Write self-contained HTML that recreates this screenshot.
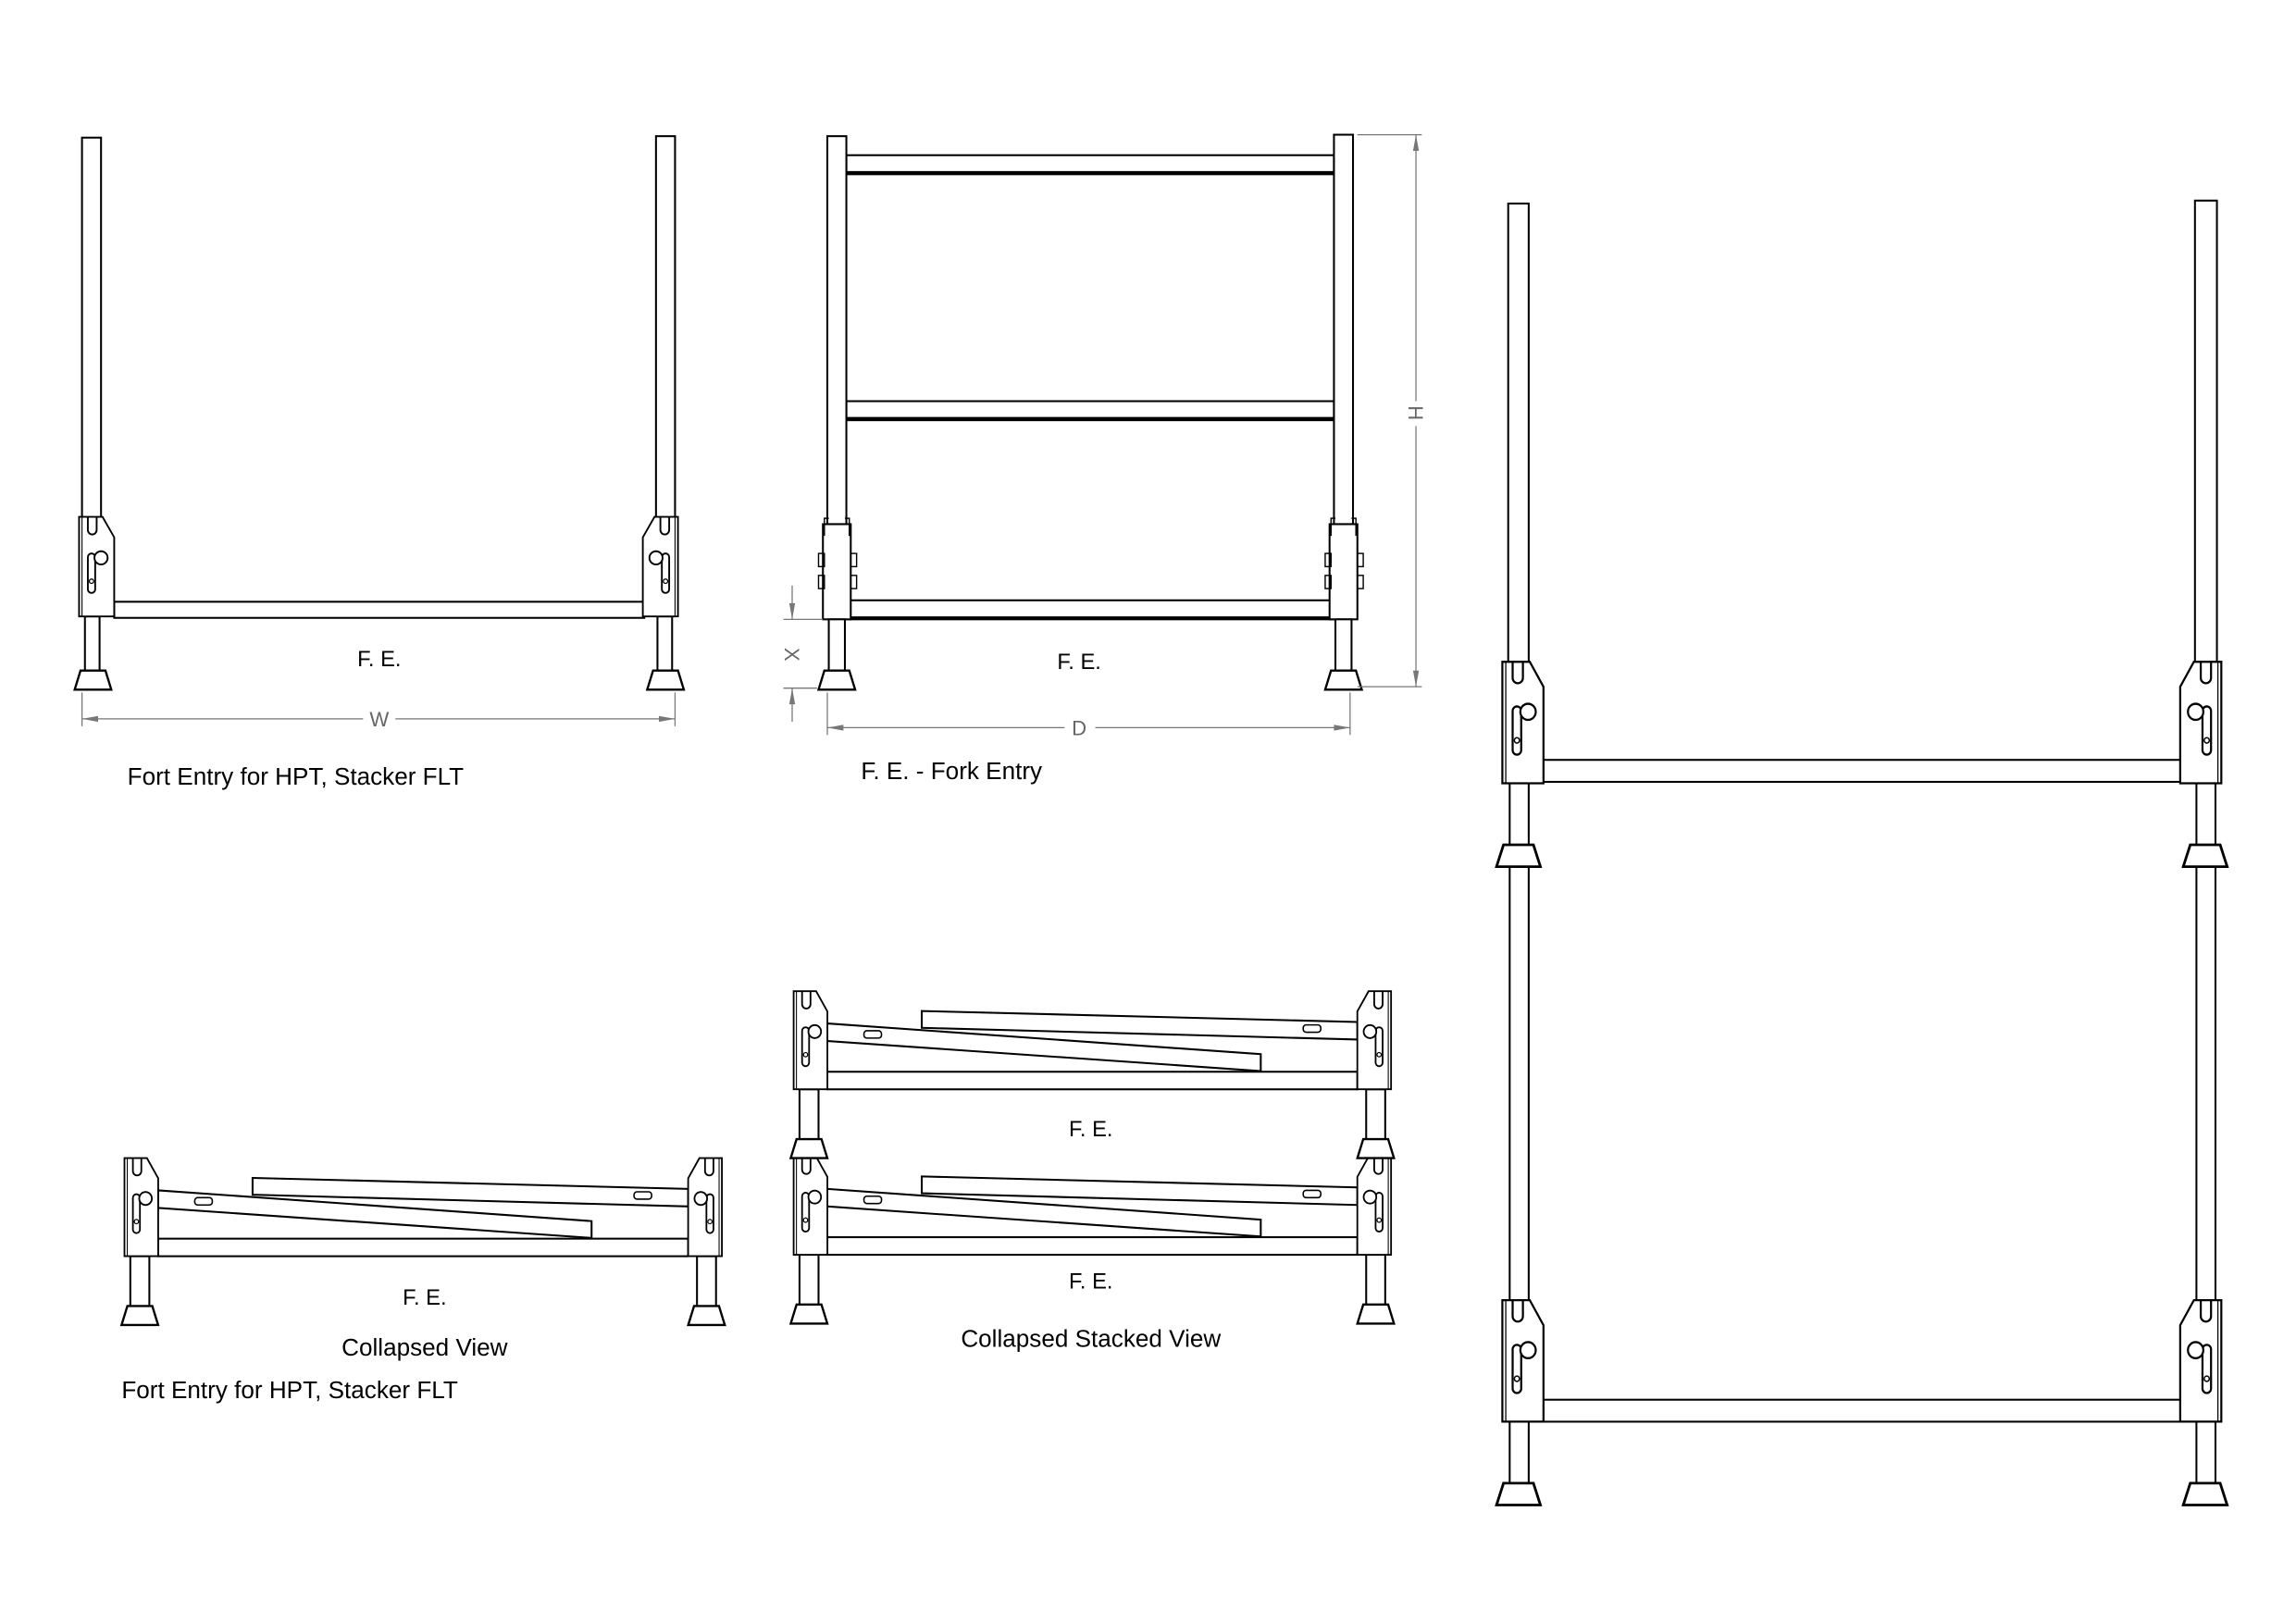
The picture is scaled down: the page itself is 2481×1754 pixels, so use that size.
<!DOCTYPE html>
<html><head><meta charset="utf-8"><style>
html,body{margin:0;padding:0;background:#fff;}
svg{display:block;}
text{font-family:"Liberation Sans",sans-serif;}
</style></head><body>
<svg width="2481" height="1754" viewBox="0 0 1568 1108.5" preserveAspectRatio="none" xmlns="http://www.w3.org/2000/svg">
<defs>
<g id="brk" fill="#fff" stroke="#000" stroke-width="1.2">
  <path d="M0,0 H16 L24,14 V68 H0 Z"/>
  <line x1="2" y1="0" x2="2" y2="68" stroke-width="0.7"/>
  <path d="M6,0 V9 A3,3 0 0 0 12,9 V0" fill="none"/>
  <rect x="6" y="25" width="5" height="27" rx="2.5"/>
  <circle cx="15" cy="28" r="4.5"/>
  <circle cx="8.5" cy="44" r="1.5" stroke-width="0.8"/>
</g>
<g id="foot" fill="#fff" stroke="#000" stroke-width="1.5">
  <polygon points="4,0 21,0 25,13 0,13"/>
</g>
<g id="cunit" stroke="#000" stroke-width="1.3" fill="#fff">
  <rect x="4" y="67" width="13" height="36"/>
  <rect x="391" y="67" width="13" height="36"/>
  <use href="#foot" x="-2" y="101"/>
  <use href="#foot" x="385" y="101"/>
  <rect x="23" y="55" width="362" height="12"/>
  <polygon points="87.5,13.5 385,21 385,33 87.5,25"/>
  <polygon points="23,22 319,43 319,54.5 23,34"/>
  <rect x="48" y="27" width="12" height="5" rx="2" stroke-width="1"/>
  <rect x="348" y="23" width="12" height="5" rx="2" stroke-width="1"/>
  <use href="#brk" x="0" y="0" transform="scale(0.96,0.985)"/>
  <use href="#brk" transform="translate(408,0) scale(-0.96,0.985)"/>
</g>
</defs>

<!-- VIEW 1 -->
<g stroke="#000" stroke-width="1.3" fill="#fff">
  <rect x="56" y="94" width="13" height="260"/>
  <rect x="448" y="93" width="13" height="261"/>
  <rect x="58" y="421" width="10" height="37"/>
  <rect x="449" y="421" width="10" height="37"/>
  <rect x="78" y="411" width="362" height="11"/>
  <use href="#foot" x="51" y="458"/>
  <use href="#foot" x="442" y="458"/>
  <use href="#brk" transform="translate(54,353)"/>
  <use href="#brk" transform="translate(463,353) scale(-1,1)"/>
</g>
<g stroke="#777" stroke-width="0.8" fill="#777">
  <line x1="56" y1="473" x2="56" y2="496"/>
  <line x1="461" y1="473" x2="461" y2="496"/>
  <line x1="56" y1="491" x2="248" y2="491"/>
  <line x1="270" y1="491" x2="461" y2="491"/>
  <polygon points="56,491 67,489 67,493" stroke="none"/>
  <polygon points="461,491 450,489 450,493" stroke="none"/>
</g>
<text x="259" y="496" font-size="14" fill="#666" text-anchor="middle">W</text>
<text x="259" y="455" font-size="15" text-anchor="middle">F. E.</text>
<text x="87" y="536" font-size="16.5">Fort Entry for HPT, Stacker FLT</text>

<!-- VIEW 2 -->
<g stroke="#000" stroke-width="1.3" fill="#fff">
  <rect x="578" y="106" width="333" height="13"/>
  <line x1="578" y1="118" x2="911" y2="118" stroke-width="2.4"/>
  <rect x="578" y="274" width="333" height="13"/>
  <line x1="578" y1="286" x2="911" y2="286" stroke-width="2.4"/>
  <rect x="578" y="410" width="333" height="13"/>
  <line x1="578" y1="422" x2="911" y2="422" stroke-width="2"/>
  <rect x="565" y="93" width="13" height="265"/>
  <rect x="911" y="92" width="13" height="266"/>
  <rect x="562" y="358" width="19" height="65"/>
  <rect x="908" y="358" width="19" height="65"/>
  <rect x="566" y="423" width="11" height="35"/>
  <rect x="912" y="423" width="11" height="35"/>
  <use href="#foot" x="559" y="458"/>
  <use href="#foot" x="905" y="458"/>
  <g stroke-width="0.9" fill="none">
    <path d="M563,366 V354 H566 M580,366 V354 H577"/>
    <path d="M909,366 V354 H912 M926,366 V354 H923"/>
    <rect x="559" y="378" width="4" height="9"/><rect x="581" y="378" width="4" height="9"/>
    <rect x="559" y="393" width="4" height="9"/><rect x="581" y="393" width="4" height="9"/>
    <rect x="905" y="378" width="4" height="9"/><rect x="927" y="378" width="4" height="9"/>
    <rect x="905" y="393" width="4" height="9"/><rect x="927" y="393" width="4" height="9"/>
  </g>
</g>
<g stroke="#777" stroke-width="0.8" fill="#777">
  <line x1="927" y1="92" x2="971" y2="92"/>
  <line x1="927" y1="469" x2="971" y2="469"/>
  <line x1="967" y1="92" x2="967" y2="274"/>
  <line x1="967" y1="291" x2="967" y2="469"/>
  <polygon points="967,92 965,103 969,103" stroke="none"/>
  <polygon points="967,469 965,458 969,458" stroke="none"/>
  <line x1="535" y1="423" x2="562" y2="423"/>
  <line x1="535" y1="470" x2="558" y2="470"/>
  <line x1="541" y1="400" x2="541" y2="423"/>
  <line x1="541" y1="470" x2="541" y2="493"/>
  <polygon points="541,423 539,412 543,412" stroke="none"/>
  <polygon points="541,470 539,481 543,481" stroke="none"/>
  <line x1="565" y1="473" x2="565" y2="502"/>
  <line x1="922" y1="473" x2="922" y2="502"/>
  <line x1="565" y1="497" x2="727" y2="497"/>
  <line x1="748" y1="497" x2="922" y2="497"/>
  <polygon points="565,497 576,495 576,499" stroke="none"/>
  <polygon points="922,497 911,495 911,499" stroke="none"/>
</g>
<text x="0" y="0" font-size="14" fill="#666" text-anchor="middle" transform="translate(962,282) rotate(90)">H</text>
<text x="0" y="0" font-size="14" fill="#666" text-anchor="middle" transform="translate(536,447) rotate(90)">X</text>
<text x="737" y="502" font-size="14" fill="#666" text-anchor="middle">D</text>
<text x="737" y="457" font-size="15" text-anchor="middle">F. E.</text>
<text x="588" y="532" font-size="16.5">F. E. - Fork Entry</text>

<!-- VIEW 3 -->
<g stroke="#000" stroke-width="1.3" fill="#fff">
  <rect x="1030" y="139" width="14" height="314"/>
  <rect x="1499" y="137" width="15" height="316"/>
  <rect x="1031" y="534" width="13" height="355"/>
  <rect x="1500" y="534" width="13" height="355"/>
  <rect x="1031" y="970" width="13" height="43"/>
  <rect x="1500" y="970" width="13" height="43"/>
  <rect x="1054" y="519" width="436" height="15"/>
  <rect x="1054" y="956" width="436" height="15"/>
  <use href="#foot" transform="translate(1022,577) scale(1.2,1.15)"/>
  <use href="#foot" transform="translate(1491,577) scale(1.2,1.15)"/>
  <use href="#foot" transform="translate(1022,1013) scale(1.2,1.15)"/>
  <use href="#foot" transform="translate(1491,1013) scale(1.2,1.15)"/>
  <use href="#brk" transform="translate(1026,452) scale(1.17,1.22)"/>
  <use href="#brk" transform="translate(1517,452) scale(-1.17,1.22)"/>
  <use href="#brk" transform="translate(1026,888) scale(1.17,1.22)"/>
  <use href="#brk" transform="translate(1517,888) scale(-1.17,1.22)"/>
</g>

<!-- VIEW 4 collapsed -->
<use href="#cunit" x="85" y="791"/>
<text x="290" y="891" font-size="15" text-anchor="middle">F. E.</text>
<text x="290" y="926" font-size="16.5" text-anchor="middle">Collapsed View</text>
<text x="83" y="955" font-size="16.5">Fort Entry for HPT, Stacker FLT</text>

<!-- VIEW 5 stacked -->
<use href="#cunit" x="542" y="790"/>
<use href="#cunit" x="542" y="677"/>
<text x="745" y="776" font-size="15" text-anchor="middle">F. E.</text>
<text x="745" y="880" font-size="15" text-anchor="middle">F. E.</text>
<text x="745" y="920" font-size="16.5" text-anchor="middle">Collapsed Stacked View</text>
</svg>
</body></html>
